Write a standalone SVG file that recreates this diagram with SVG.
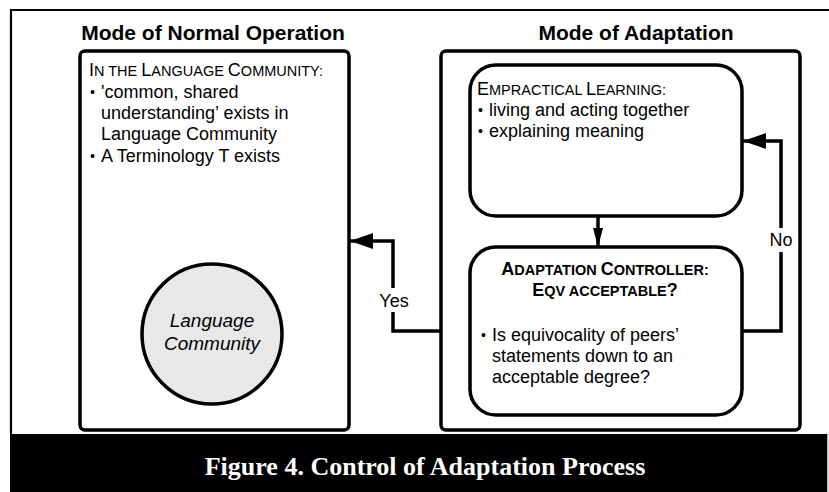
<svg xmlns="http://www.w3.org/2000/svg" width="829" height="492" viewBox="0 0 829 492">
<style>
  .sans { font-family: "Liberation Sans", Arial, sans-serif; fill: #000; }
  .title { font-size: 21px; font-weight: bold; }
  .body { font-size: 18px; }
  .sc { font-size: 14.5px; }
  .bul { font-size: 14px; }
  .box { fill: #fff; stroke: #000; stroke-width: 3.5; }
  .conn { fill: none; stroke: #000; stroke-width: 3.5; }
  .lbl { font-size: 18px; text-anchor: middle; }
</style>
<defs>
  <marker id="big" markerUnits="userSpaceOnUse" markerWidth="24" markerHeight="16" refX="23" refY="8" orient="auto">
    <path d="M0,0 L23,8 L0,16 Z" fill="#000"/>
  </marker>
  <marker id="small" markerUnits="userSpaceOnUse" markerWidth="20" markerHeight="12" refX="19" refY="6" orient="auto">
    <path d="M0,1 L19,6 L0,11 Z" fill="#000"/>
  </marker>
</defs>
<rect x="0" y="0" width="829" height="492" fill="#fff"/>
<g id="frame">
  <path d="M11,434 V10 H829" fill="none" stroke="#000" stroke-width="2.2"/>
  <rect x="10" y="434" width="817" height="58" fill="#000"/>
  <line x1="827.8" y1="434" x2="827.8" y2="492" stroke="#9a9a9a" stroke-width="1"/>
  <text x="425" y="475" text-anchor="middle" font-family="'Liberation Serif', 'Times New Roman', serif" font-size="26" font-weight="bold" fill="#fff">Figure 4. Control of Adaptation Process</text>
</g>
<g id="titles">
  <text x="213" y="40" text-anchor="middle" class="sans title">Mode of Normal Operation</text>
  <text x="636" y="40" text-anchor="middle" class="sans title">Mode of Adaptation</text>
</g>
<g id="normal-mode">
  <rect class="box" x="80" y="51" width="269" height="379" rx="5"/>
  <text class="sans body" x="89" y="76">I<tspan class="sc">N THE </tspan>L<tspan class="sc">ANGUAGE </tspan>C<tspan class="sc">OMMUNITY:</tspan></text>
  <text class="sans bul" x="90" y="96.5">•</text>
  <text class="sans body" x="101" y="98">'common, shared</text>
  <text class="sans body" x="101" y="119">understanding’ exists in</text>
  <text class="sans body" x="101" y="140">Language Community</text>
  <text class="sans bul" x="90" y="160.5">•</text>
  <text class="sans body" x="101" y="162">A Terminology T exists</text>
</g>
<g id="language-community">
  <circle cx="212" cy="334" r="70" fill="#e8e8e8" stroke="#000" stroke-width="3.5"/>
  <text class="sans" x="212" y="327" text-anchor="middle" font-size="19" font-style="italic">Language</text>
  <text class="sans" x="212" y="350" text-anchor="middle" font-size="19" font-style="italic">Community</text>
</g>
<g id="adaptation-mode">
  <rect class="box" x="441" y="51" width="359" height="379" rx="5"/>
</g>
<g id="empractical-learning">
  <rect class="box" x="470" y="65" width="272" height="151" rx="26"/>
  <text class="sans body" x="477" y="95">E<tspan class="sc">MPRACTICAL </tspan>L<tspan class="sc">EARNING:</tspan></text>
  <text class="sans bul" x="478" y="114.5">•</text>
  <text class="sans body" x="489" y="116">living and acting together</text>
  <text class="sans bul" x="478" y="135.5">•</text>
  <text class="sans body" x="489" y="137">explaining meaning</text>
</g>
<g id="adaptation-controller">
  <rect class="box" x="470" y="247" width="272" height="168" rx="26"/>
  <text class="sans body" x="605" y="275" text-anchor="middle" font-weight="bold">A<tspan class="sc">DAPTATION </tspan>C<tspan class="sc">ONTROLLER:</tspan></text>
  <text class="sans body" x="605" y="296" text-anchor="middle" font-weight="bold">E<tspan class="sc">QV ACCEPTABLE</tspan>?</text>
  <text class="sans bul" x="481" y="339.5">•</text>
  <text class="sans body" x="492" y="341">Is equivocality of peers’</text>
  <text class="sans body" x="492" y="362">statements down to an</text>
  <text class="sans body" x="492" y="383">acceptable degree?</text>
</g>
<g id="connectors">
  <path class="conn" d="M598,216 V247" marker-end="url(#small)"/>
  <path class="conn" d="M742,331 H781 V141 H743" marker-end="url(#big)"/>
  <path class="conn" d="M441,331 H393 V241 H350" marker-end="url(#big)"/>
  <rect x="380" y="288" width="28" height="24" fill="#fff"/>
  <text class="sans lbl" x="394" y="307">Yes</text>
  <rect x="768" y="228" width="26" height="24" fill="#fff"/>
  <text class="sans lbl" x="781" y="246">No</text>
</g>
</svg>
